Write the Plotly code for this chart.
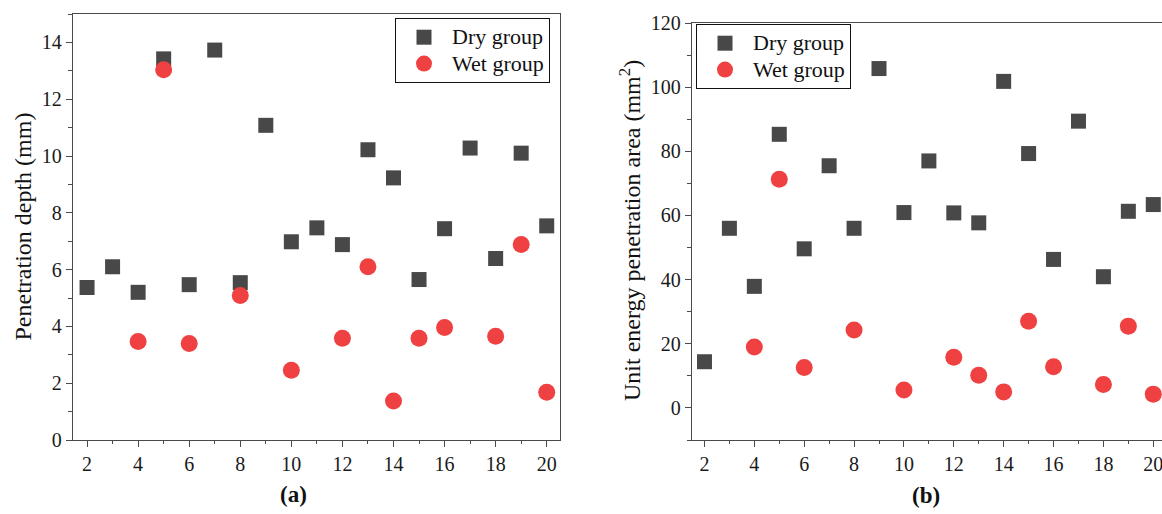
import plotly.graph_objects as go

# ---- data ----
dry_x = list(range(2, 21))
dry_depth = [5.37, 6.1, 5.2, 13.42, 5.47, 13.73, 5.54, 11.08, 6.98, 7.47, 6.88,
             10.22, 9.23, 5.65, 7.44, 10.28, 6.39, 10.1, 7.54]
wet_x = [4, 5, 6, 8, 10, 12, 13, 14, 15, 16, 18, 19, 20]
wet_depth = [3.47, 13.04, 3.4, 5.09, 2.46, 3.58, 6.1, 1.37, 3.58, 3.96, 3.65, 6.88, 1.68]

dry_area = [14.4, 56.0, 37.9, 85.3, 49.6, 75.5, 56.0, 105.8, 60.9, 77.0, 60.8,
            57.7, 101.8, 79.3, 46.3, 89.4, 40.9, 61.3, 63.4]
wet_area = [19.0, 71.3, 12.6, 24.3, 5.6, 15.8, 10.2, 5.0, 27.0, 12.8, 7.3, 25.5, 4.3]

x_ticks = [2, 4, 6, 8, 10, 12, 14, 16, 18, 20]
y1_ticks = [0, 2, 4, 6, 8, 10, 12, 14]
y2_ticks = [0, 20, 40, 60, 80, 100, 120]

DRY = "#484848"
WET = "#EF4141"
AX = "#4a4a4a"
FONT = "Liberation Serif, Times New Roman, serif"
W, H = 1162, 514


def lg(name):
    return "<span style='font-size:22px'>" + name + "</span>"


fig = go.Figure()

fig.add_trace(go.Scatter(x=dry_x, y=dry_depth, mode="markers", name=lg("Dry group"),
                         marker=dict(symbol="square", size=15, color=DRY, line=dict(width=0)),
                         xaxis="x", yaxis="y", legend="legend"))
fig.add_trace(go.Scatter(x=wet_x, y=wet_depth, mode="markers", name=lg("Wet group"),
                         marker=dict(symbol="circle", size=17, color=WET, line=dict(width=0)),
                         xaxis="x", yaxis="y", legend="legend"))
fig.add_trace(go.Scatter(x=dry_x, y=dry_area, mode="markers", name=lg("Dry group"),
                         marker=dict(symbol="square", size=15, color=DRY, line=dict(width=0)),
                         xaxis="x2", yaxis="y2", legend="legend2"))
fig.add_trace(go.Scatter(x=wet_x, y=wet_area, mode="markers", name=lg("Wet group"),
                         marker=dict(symbol="circle", size=17, color=WET, line=dict(width=0)),
                         xaxis="x2", yaxis="y2", legend="legend2"))

common = dict(showgrid=False, zeroline=False, showline=True, linecolor=AX, linewidth=1.3,
              ticks="outside", tickcolor=AX, tickwidth=1.3, ticklabeloverflow="allow",
              automargin=False,
              tickfont=dict(family=FONT, size=20, color="#1a1a1a"))

fig.update_layout(
    width=W, height=H,
    margin=dict(l=0, r=0, t=0, b=0, pad=0, autoexpand=False),
    paper_bgcolor="white", plot_bgcolor="white",
    font=dict(family=FONT, color="#111"),
    xaxis=dict(common, domain=[73 / W, 560 / W], range=[1.45, 20.52], tickvals=x_ticks,
               ticklen=6, mirror=True, anchor="y",
               minor=dict(dtick=1, tick0=0, ticks="outside", ticklen=3, tickcolor=AX, tickwidth=1.3)),
    yaxis=dict(common, domain=[1 - 440 / H, 1 - 14 / H], range=[0, 15], tickvals=y1_ticks,
               ticklen=6, mirror=True, anchor="x",
               minor=dict(dtick=1, tick0=0, ticks="outside", ticklen=4, tickcolor=AX, tickwidth=1.3)),
    xaxis2=dict(common, domain=[692 / W, 1.0], range=[1.5, 20.35], tickvals=x_ticks,
                ticklen=6, mirror=True, anchor="y2",
                minor=dict(dtick=1, tick0=0, ticks="outside", ticklen=3, tickcolor=AX, tickwidth=1.3)),
    yaxis2=dict(common, domain=[1 - 440 / H, 1 - 23 / H], range=[-10, 120], tickvals=y2_ticks,
                ticklen=6, mirror=False, anchor="x2",
                minor=dict(dtick=10, tick0=0, ticks="outside", ticklen=4, tickcolor=AX, tickwidth=1.3)),
    legend=dict(x=395 / W, y=1 - 18 / H, xanchor="left", yanchor="top",
                bordercolor="#111", borderwidth=1, bgcolor="white", itemwidth=46,
                font=dict(family=FONT, size=18, color="#111"), tracegroupgap=0),
    legend2=dict(x=696 / W, y=1 - 24 / H, xanchor="left", yanchor="top",
                 bordercolor="#111", borderwidth=1, bgcolor="white", itemwidth=46,
                 font=dict(family=FONT, size=18, color="#111"), tracegroupgap=0),
    annotations=[
        dict(text="Penetration depth (mm)", x=22.5 / W, y=1 - 227 / H, xref="paper", yref="paper",
             textangle=-90, showarrow=False, xanchor="center", yanchor="middle",
             font=dict(family=FONT, size=24, color="#111")),
        dict(text="Unit energy penetration area (mm<sup>2</sup>)", x=630 / W, y=1 - 231 / H,
             xref="paper", yref="paper", textangle=-90, showarrow=False,
             xanchor="center", yanchor="middle", font=dict(family=FONT, size=24, color="#111")),
        dict(text="<b>(a)</b>", x=293 / W, y=1 - 494 / H, xref="paper", yref="paper",
             showarrow=False, xanchor="center", yanchor="middle",
             font=dict(family=FONT, size=23, color="#111")),
        dict(text="<b>(b)</b>", x=926 / W, y=1 - 495 / H, xref="paper", yref="paper",
             showarrow=False, xanchor="center", yanchor="middle",
             font=dict(family=FONT, size=23, color="#111")),
    ],
)

fig.write_html("out.html")
